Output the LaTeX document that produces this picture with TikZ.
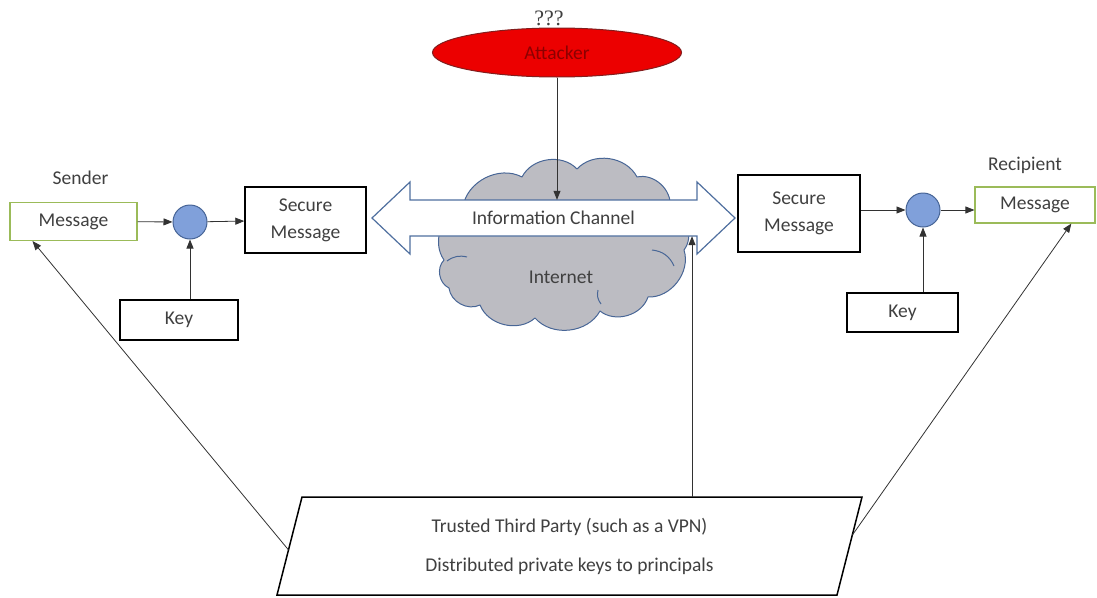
\documentclass[tikz,border=0pt]{standalone}
\usepackage{fontspec}
\setmainfont{Carlito}
\newfontfamily\qfont{Liberation Serif}
\usetikzlibrary{shapes.geometric,arrows.meta,calc}

\definecolor{txt}{RGB}{64,64,64}
\definecolor{msggreen}{RGB}{155,187,89}
\definecolor{mixfill}{RGB}{128,160,218}
\definecolor{mixedge}{RGB}{70,100,150}
\definecolor{cloudfill}{RGB}{188,188,194}
\definecolor{cloudedge}{RGB}{72,102,150}
\definecolor{chanedge}{RGB}{79,111,159}
\definecolor{attred}{RGB}{236,0,0}
\definecolor{attedge}{RGB}{130,30,30}
\definecolor{atttxt}{RGB}{140,0,0}
\definecolor{linkcol}{RGB}{50,50,50}

\tikzset{
  basefont/.style={font=\fontsize{19.5}{24}\selectfont},
  plainbox/.style={draw=black, line width=1.4pt, fill=white, inner sep=0pt, align=center, basefont, text=txt},
  msgbox/.style={draw=msggreen, line width=1.1pt, fill=white, inner sep=0pt, basefont, text=txt},
  mixer/.style={circle, draw=mixedge, fill=mixfill, line width=1pt, minimum size=34pt, inner sep=0pt},
  caption/.style={basefont, text=txt, inner sep=0pt},
  link/.style={draw=linkcol, line width=0.8pt, -{Triangle[length=9pt,width=7pt]}},
  puff/.style={bend left=55}
}

\begin{document}
\begin{tikzpicture}[x=1pt,y=-1pt]
\useasboundingbox (0,0) rectangle (1097,597);

% sender side
\node[caption] (sndr) at (80.5,178) {Sender};
\node[msgbox, minimum width=127pt, minimum height=38pt] (msgL) at (73.5,221.5) {Message};
\node[mixer] (cirL) at (190,222) {};
\node[plainbox, minimum width=121pt, minimum height=66pt] (secL) at (305.5,220) {Secure\\[3pt]Message};
\node[plainbox, minimum width=118pt, minimum height=40pt] (keyL) at (179,320) {Key};

\draw[link] (msgL) -- (cirL);
\draw[link] (cirL) -- (secL);
\draw[link] (keyL.north -| cirL) -- (cirL.south);

% recipient side
\node[caption] (rcpt) at (1025,165) {Recipient};
\node[plainbox, minimum width=122pt, minimum height=77pt] (secR) at (799,213.5) {Secure\\[3pt]Message};
\node[mixer] (cirR) at (923,210) {};
\node[msgbox, minimum width=120pt, minimum height=36pt] (msgR) at (1035,205) {Message};
\node[plainbox, minimum width=111pt, minimum height=39pt] (keyR) at (902.5,312.5) {Key};

\draw[link] (secR.east |- cirR) -- (cirR.west);
\draw[link] (cirR.east) -- (msgR.west |- cirR);
\draw[link] (keyR.north -| cirR) -- (cirR.south);

% the internet cloud, drawn puff by puff
\draw[cloudedge, fill=cloudfill, line width=1pt, line join=round]
  (444,260) to[puff] (463,207) to[puff] (522,177) to[puff] (577,169)
  to[puff] (637,177) to[puff] (670,207) to[puff] (684,250)
  to[puff] (648,297) to[puff] (600,311) to[puff] (535,318)
  to[puff] (480,305) to[puff] (449,288) to[puff] (444,260) -- cycle;
\draw[cloudedge, line width=1pt] (447,261) to[bend left=25] (467,257);
\draw[cloudedge, line width=1pt] (652,250) to[bend left=30] (674,266);
\draw[cloudedge, line width=1pt] (598,290) to[bend right=25] (601,304);
\node[caption] (inet) at (561,277) {Internet};

% the two-headed channel arrow laid over the cloud
\draw[draw=chanedge, line width=1.2pt, fill=white, line join=miter]
  (372,218) -- (410,182) -- (410,200) -- (697,200) -- (697,182) -- (735,218)
  -- (697,254) -- (697,236) -- (410,236) -- (410,254) -- cycle;
\node[caption, minimum width=325pt, minimum height=36pt] (chan) at (553.5,218) {Information Channel};

% attacker
\node[font=\qfont\fontsize{22}{22}\selectfont, text=txt, inner sep=0pt] (qq) at (549,18) {???};
\node[ellipse, fill=attred, draw=attedge, line width=1pt, minimum width=249pt,
      minimum height=49pt, inner sep=0pt, basefont, text=atttxt] (att) at (557,52.5)
      {\raisebox{-4pt}{Attacker}};
\draw[link] (att.south) -- (att.south |- chan.north);

% trusted third party
\coordinate (tl) at (302,497);
\coordinate (tr) at (862,497);
\coordinate (br) at (837,595);
\coordinate (bl) at (277,595);
\draw[black, line width=1.5pt, fill=white, line join=miter] (tl) -- (tr) -- (br) -- (bl) -- cycle;
\node[caption, align=center, minimum width=535pt, minimum height=98pt] (ttp) at (569.5,546)
  {Trusted Third Party (such as a VPN)\\[15pt]Distributed private keys to principals};

\coordinate (ttpL) at ($(tl)!0.54!(bl)$);
\coordinate (ttpR) at ($(tr)!0.39!(br)$);
\coordinate (ttpU) at (692,497);

\draw[link] (ttpL) -- ($(msgL.south west)!0.18!(msgL.south east)$);
\draw[link] (ttpU) -- (ttpU |- chan.south);
\draw[link] (ttpR) -- ($(msgR.south west)!0.8!(msgR.south east)$);
\end{tikzpicture}
\end{document}
